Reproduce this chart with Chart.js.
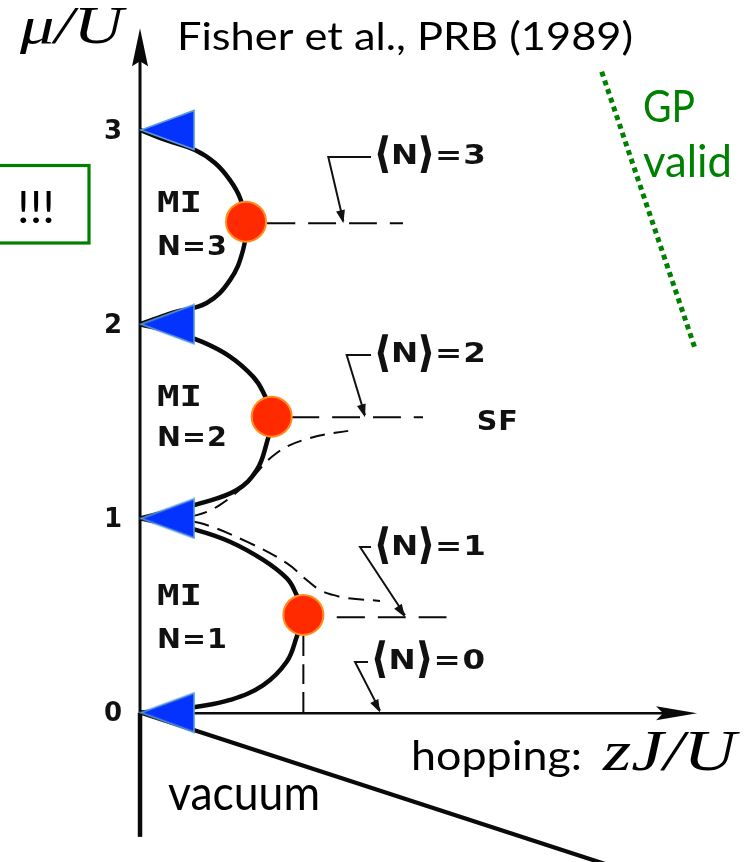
<!DOCTYPE html>
<html>
<head>
<meta charset="utf-8">
<script src="https://cdn.jsdelivr.net/npm/chart.js@4.4.1/dist/chart.umd.min.js"></script>
<style>
  html, body { margin: 0; padding: 0; background: #fff; }
  #wrap { width: 753px; height: 862px; }
  canvas { display: block; }
</style>
</head>
<body>
<div id="wrap"><canvas id="phase" width="753" height="862"></canvas></div>
<script>
// Bose-Hubbard phase diagram: Mott lobes in the (zJ/U, mu/U) plane

// plotting window
const X_MIN = -0.1477, X_MAX = 0.6466;   // zJ/U
const Y_MIN = -0.7693, Y_MAX = 3.6694;   // mu/U

// Mott-insulator lobe boundaries, traced from mu = n down to mu = n - 1
const lobe1ZJ = [0, 0.0295, 0.0598, 0.0949, 0.1300, 0.1547, 0.1635, 0.1723, 0.1653, 0.1547, 0.1300, 0.0949, 0.0598, 0.0295, 0];
const lobe1Mu = [1, 0.971, 0.940, 0.880, 0.786, 0.692, 0.623, 0.503, 0.391, 0.262, 0.142, 0.065, 0.030, 0.013, 0];
const lobe2ZJ = [0, 0.0327, 0.0651, 0.0949, 0.1192, 0.1297, 0.1389, 0.1336, 0.1231, 0.1020, 0.0633, 0.0316, 0];
const lobe2Mu = [2, 1.961, 1.910, 1.833, 1.730, 1.652, 1.524, 1.388, 1.249, 1.146, 1.077, 1.038, 1];
const lobe3ZJ = [0, 0.0285, 0.0580, 0.0791, 0.0949, 0.1055, 0.1118, 0.1087, 0.0949, 0.0703, 0.0348, 0];
const lobe3Mu = [3, 2.946, 2.897, 2.830, 2.742, 2.650, 2.528, 2.382, 2.227, 2.109, 2.060, 2];

// lobe tips (multicritical points)
const tipZJ = [0.1723, 0.1389, 0.1118];
const tipMu = [0.503, 1.524, 2.528];

// integer-filling contours leaving the tips
const contourMu = [0.491, 1.521, 2.520];
const contourFromZJ = [0.2075, 0.1593, 0.1340];
const contourToZJ = [0.3354, 0.2985, 0.2774];

// non-integer density contours fanning out of mu/U = 1
const sfUpperZJ = [0.0300, 0.0598, 0.0844, 0.1126, 0.1442, 0.1793, 0.2247];
const sfUpperMu = [1.004, 1.017, 1.070, 1.182, 1.337, 1.414, 1.455];
const sfLowerZJ = [0.0300, 0.0633, 0.1126, 0.1547, 0.1758, 0.1899, 0.2036, 0.2180, 0.2532];
const sfLowerMu = [0.996, 0.976, 0.880, 0.770, 0.683, 0.631, 0.606, 0.590, 0.575];

// drop line from the first tip to the axis
const tipDropZJ = [0.1723, 0.1723];
const tipDropMu = [0.394, 0];

// vacuum boundary
const vacuumZJ = [0, 0.55];
const vacuumMu = [0, -0.874];

// Gross-Pitaevskii validity border
const gpZJ = [0.487, 0.5854];
const gpMu = [3.300, 1.876];

// axis ticks
const muTicks = [0, 1, 2, 3];
const muTickLabels = ['0', '1', '2', '3'];

// region labels
const lobeNames = ['N=1', 'N=2', 'N=3'];
const densityLabels = ['\u27E8N\u27E9=0', '\u27E8N\u27E9=1', '\u27E8N\u27E9=2', '\u27E8N\u27E9=3'];

// --- build the datasets --------------------------------------------------
const pts = (xs, ys) => xs.map((x, i) => ({ x, y: ys[i] }));

const BLACK = '#0a0a0a';
const GREEN = '#008000';

function curve(data, width, dash, order) {
  return {
    data, showLine: true, fill: false, tension: 0.4,
    borderColor: BLACK, borderWidth: width, borderDash: dash || [],
    pointRadius: 0, order: order
  };
}

// left-pointing marker whose apex sits on the point
function makeWedge() {
  const w = 56, h = 42;
  const c = document.createElement('canvas');
  c.width = 2 * w; c.height = h;
  const g = c.getContext('2d');
  g.beginPath();
  g.moveTo(w + 1, h / 2);
  g.lineTo(2 * w - 2, 1.5);
  g.lineTo(2 * w - 2, h - 1.5);
  g.closePath();
  g.fillStyle = '#0433ff';
  g.fill();
  g.strokeStyle = '#5b9bd5';
  g.lineWidth = 1.6;
  g.stroke();
  return c;
}

const datasets = [
  curve(pts(lobe1ZJ, lobe1Mu), 4.5, null, 5),
  curve(pts(lobe2ZJ, lobe2Mu), 4.5, null, 5),
  curve(pts(lobe3ZJ, lobe3Mu), 4.5, null, 5),
  curve(pts(sfUpperZJ, sfUpperMu), 2, [15, 9], 6),
  curve(pts(sfLowerZJ, sfLowerMu), 2, [16, 9], 6),
  curve(pts(tipDropZJ, tipDropMu), 2, [20, 8], 6),
  ...contourMu.map((m, i) => curve(pts([contourFromZJ[i], contourToZJ[i]], [m, m]), 2, [28, 13], 6)),
  Object.assign(curve(pts(vacuumZJ, vacuumMu), 4.2, null, 5), { tension: 0 }),
  {
    data: pts(gpZJ, gpMu), showLine: true, fill: false, tension: 0,
    borderColor: GREEN, borderWidth: 5, borderDash: [5, 4.2], borderCapStyle: 'butt',
    pointRadius: 0, order: 6
  },
  {
    data: muTicks.map(m => ({ x: 0, y: m })), showLine: false,
    pointStyle: makeWedge(), pointRadius: 20, order: 1
  },
  {
    data: pts(tipZJ, tipMu), showLine: false,
    pointStyle: 'circle', pointRadius: 20,
    pointBackgroundColor: '#ff2a00', pointBorderColor: '#ff8c1a', pointBorderWidth: 2,
    order: 0
  }
];

// --- text helpers --------------------------------------------------------
function fitText(ctx, str, x, y, font, width, color, baseline) {
  ctx.save();
  ctx.font = font;
  ctx.fillStyle = color || '#000';
  ctx.textAlign = 'left';
  ctx.textBaseline = baseline || 'alphabetic';
  const s = width / ctx.measureText(str).width;
  ctx.translate(x, y);
  ctx.scale(s, 1);
  ctx.fillText(str, 0, 0);
  ctx.restore();
}

// draws glyphs one by one spread over a given width; angle brackets are drawn taller
function spacedText(ctx, str, x, y, font, width, sx, color) {
  ctx.save();
  ctx.font = font;
  ctx.fillStyle = color || '#111';
  ctx.textAlign = 'left';
  ctx.textBaseline = 'middle';
  const chars = [...str];
  const ws = chars.map(c => ctx.measureText(c).width * sx);
  const total = ws.reduce((a, b) => a + b, 0);
  const gap = chars.length > 1 ? Math.max(1, (width - total) / (chars.length - 1)) : 0;
  let cx = x;
  chars.forEach((c, i) => {
    const tall = (c === '\u27E8' || c === '\u27E9');
    ctx.save();
    ctx.translate(cx, y);
    ctx.scale(sx, tall ? 1.55 : 1);
    if (tall) { ctx.lineWidth = 1.2; ctx.strokeStyle = ctx.fillStyle; ctx.strokeText(c, 0, 0); }
    ctx.fillText(c, 0, 0);
    ctx.restore();
    cx += ws[i] + gap;
  });
  ctx.restore();
}

function arrowHead(ctx, x0, y0, x1, y1, len, half) {
  const a = Math.atan2(y1 - y0, x1 - x0);
  ctx.beginPath();
  ctx.moveTo(x1, y1);
  ctx.lineTo(x1 - len * Math.cos(a) + half * Math.sin(a), y1 - len * Math.sin(a) - half * Math.cos(a));
  ctx.lineTo(x1 - len * Math.cos(a) - half * Math.sin(a), y1 - len * Math.sin(a) + half * Math.cos(a));
  ctx.closePath();
  ctx.fill();
}

const LABEL_FONT = 'bold 26px "DejaVu Sans"';
const MONO_FONT = 'bold 28px "DejaVu Sans Mono"';

// callouts pointing at the density contours (data coordinates)
const callouts = [
  { text: densityLabels[0], at: [0.2447, 0.2606], elbow: [0.2268, 0.2606], tip: [0.2532, 0.0], w: 113 },
  { text: densityLabels[1], at: [0.2479, 0.848], elbow: [0.2321, 0.853], tip: [0.2795, 0.491], w: 100 },
  { text: densityLabels[2], at: [0.2479, 1.841], elbow: [0.2180, 1.841], tip: [0.2373, 1.521], w: 108 },
  { text: densityLabels[3], at: [0.2479, 2.861], elbow: [0.1986, 2.861], tip: [0.2145, 2.520], w: 110 }
];
const lobeLabelPos = [
  { mi: 0.589, n: 0.365, w: 55 },
  { mi: 1.618, n: 1.405, w: 63 },
  { mi: 2.614, n: 2.392, w: 62 }
];

const diagram = {
  id: 'diagram',
  beforeDatasetsDraw(chart) {
    const { ctx, scales: { x, y } } = chart;
    const x0 = x.getPixelForValue(0), y0 = y.getPixelForValue(0);
    ctx.save();
    ctx.fillStyle = BLACK;
    ctx.strokeStyle = BLACK;
    // mu axis with arrow
    const top = y.getPixelForValue(3.524);
    ctx.lineWidth = 3;
    ctx.beginPath(); ctx.moveTo(x0, y0); ctx.lineTo(x0, top + 30); ctx.stroke();
    ctx.beginPath();
    ctx.moveTo(x0, top); ctx.lineTo(x0 + 8, top + 38); ctx.lineTo(x0, top + 33); ctx.lineTo(x0 - 8, top + 38);
    ctx.closePath(); ctx.fill();
    // continuation below the hopping axis
    ctx.lineWidth = 4.5;
    ctx.beginPath(); ctx.moveTo(x0, y0); ctx.lineTo(x0, y.getPixelForValue(-0.640)); ctx.stroke();
    // hopping axis with arrow
    const right = x.getPixelForValue(0.5876);
    ctx.lineWidth = 2.6;
    ctx.beginPath(); ctx.moveTo(x0, y0 + 0.7); ctx.lineTo(right - 30, y0 + 0.7); ctx.stroke();
    ctx.beginPath();
    ctx.moveTo(right, y0 + 0.7); ctx.lineTo(right - 41, y0 - 6.3); ctx.lineTo(right - 34, y0 + 0.7); ctx.lineTo(right - 41, y0 + 7.7);
    ctx.closePath(); ctx.fill();
    ctx.restore();
  },
  afterDatasetsDraw(chart) {
    const { ctx, scales: { x, y } } = chart;
    const px = v => x.getPixelForValue(v), py = v => y.getPixelForValue(v);
    ctx.save();

    // tick labels on the mu axis
    ctx.font = LABEL_FONT;
    ctx.fillStyle = '#111';
    ctx.textAlign = 'center';
    ctx.textBaseline = 'middle';
    muTicks.forEach((m, i) => ctx.fillText(muTickLabels[i], px(0) - 27, py(m) + 2));

    // lobe labels
    lobeLabelPos.forEach((p, i) => {
      fitText(ctx, 'MI', px(0.0179), py(p.mi), MONO_FONT, 45, '#111', 'middle');
      spacedText(ctx, lobeNames[i], px(0.0179), py(p.n), LABEL_FONT, p.w, 1.1);
    });
    spacedText(ctx, 'SF', px(0.3552), py(1.491), LABEL_FONT, 38, 1.1);

    // density callouts
    ctx.strokeStyle = '#111';
    ctx.fillStyle = '#111';
    ctx.lineWidth = 2;
    callouts.forEach(c => {
      const tx = px(c.at[0]), ty = py(c.at[1]);
      const ex = px(c.elbow[0]), ey = py(c.elbow[1]);
      const hx = px(c.tip[0]), hy = py(c.tip[1]);
      ctx.beginPath();
      ctx.moveTo(tx - 4, ey); ctx.lineTo(ex, ey); ctx.lineTo(hx, hy - 2);
      ctx.stroke();
      arrowHead(ctx, ex, ey, hx, hy, 13, 4.5);
      spacedText(ctx, c.text, tx, ty, LABEL_FONT, c.w, 1.25);
    });

    ctx.restore();
  },
  afterDraw(chart) {
    const { ctx } = chart;
    ctx.save();
    // axis titles
    fitText(ctx, '\u03BC/U', 20, 43, 'italic 53px "Liberation Serif"', 103);
    fitText(ctx, 'hopping:', 411, 770, '41px Lato', 171);
    fitText(ctx, 'zJ/U', 603, 770, 'italic 58px "Liberation Serif"', 133);
    // citation
    fitText(ctx, 'Fisher et al., PRB (1989)', 177, 50, '39.5px Lato', 456);
    // region note
    fitText(ctx, 'vacuum', 168, 810, '49px Lato', 152);
    // GP note
    fitText(ctx, 'GP', 643, 121.7, '44px Lato', 52, GREEN);
    fitText(ctx, 'valid', 643, 176.7, '44px Lato', 89, GREEN);
    // boxed remark
    ctx.strokeStyle = GREEN;
    ctx.lineWidth = 3.2;
    ctx.strokeRect(-10, 165.5, 99, 77.5);
    fitText(ctx, '!!!', 17, 223.3, '44px Lato', 38);
    ctx.restore();
  }
};

new Chart(document.getElementById('phase'), {
  type: 'scatter',
  data: { datasets },
  options: {
    responsive: false,
    animation: false,
    devicePixelRatio: 1,
    events: [],
    layout: { padding: 0, autoPadding: false },
    plugins: { legend: { display: false }, tooltip: { enabled: false } },
    scales: {
      x: { type: 'linear', min: X_MIN, max: X_MAX, display: false },
      y: { type: 'linear', min: Y_MIN, max: Y_MAX, display: false }
    }
  },
  plugins: [diagram]
});
</script>
</body>
</html>
